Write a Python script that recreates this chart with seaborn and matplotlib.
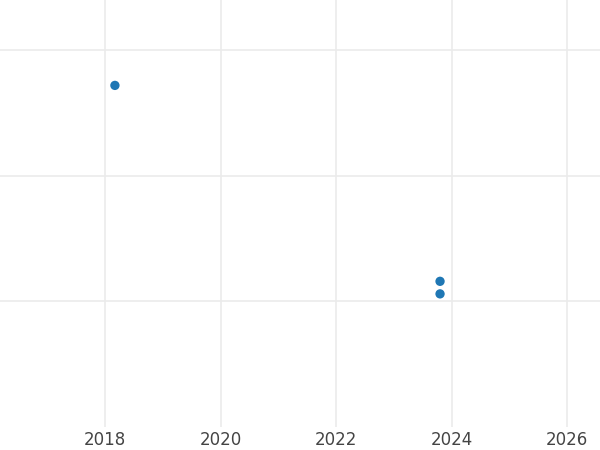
import matplotlib
matplotlib.use("Agg")
import matplotlib.pyplot as plt
import seaborn as sns
import pandas as pd

# dati
years = [2018.17, 2023.80, 2023.80]
values = [2.72, 1.16, 1.06]

df = pd.DataFrame({"year": years, "value": values})

sns.set_style("whitegrid")

fig = plt.figure(figsize=(6, 4.5), dpi=100)
ax = fig.add_axes([0, 23 / 450, 1, 427 / 450])

sns.scatterplot(data=df, x="year", y="value", ax=ax, color="#1f77b4",
                s=45, edgecolor="none")

ax.set_xlim(2016.18, 2026.57)
ax.set_ylim(0, 3.4)
ax.set_xticks([2018, 2020, 2022, 2024, 2026])
ax.set_yticks([1, 2, 3])
ax.set_yticklabels([])
ax.set_xlabel("")
ax.set_ylabel("")
ax.grid(True, color="#ebebeb", linewidth=1.2)
ax.tick_params(axis="x", length=0, labelsize=12, labelcolor="#444444", pad=3)
ax.tick_params(axis="y", length=0)
for s in ax.spines.values():
    s.set_visible(False)

fig.savefig("out.png", dpi=100)
